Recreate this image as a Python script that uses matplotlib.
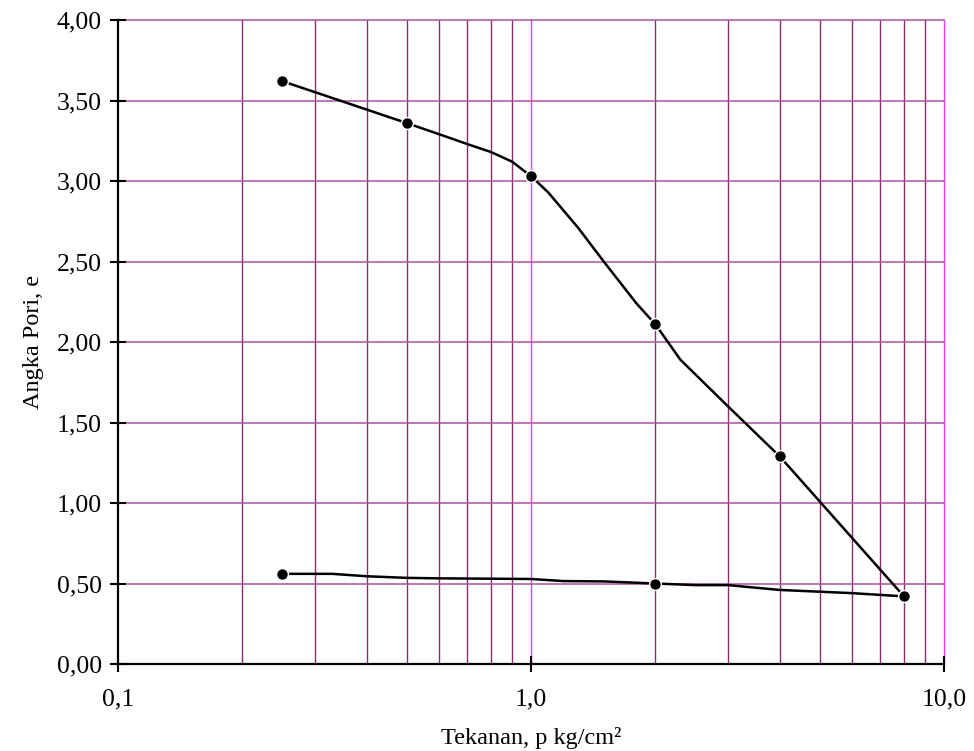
import numpy as np
import matplotlib
matplotlib.use('Agg')
import matplotlib.pyplot as plt
from matplotlib.ticker import FixedLocator, FuncFormatter, NullFormatter

# tekanan p (kg/cm2) and angka pori e
# curve vertices (the line) and measured points (the markers)
p_upper_line = [0.25, 0.5, 0.6, 0.7, 0.8, 0.9, 1.0, 1.1, 1.3, 1.5, 1.8, 2.0, 2.3, 3.0, 4.0, 8.0]
e_upper_line = [3.62, 3.36, 3.29, 3.23, 3.18, 3.12, 3.03, 2.93, 2.71, 2.50, 2.24, 2.11, 1.89, 1.60, 1.29, 0.42]
p_upper_pts = [0.25, 0.5, 1.0, 2.0, 4.0, 8.0]
e_upper_pts = [3.62, 3.36, 3.03, 2.11, 1.29, 0.42]

p_lower_line = [0.25, 0.33, 0.4, 0.5, 0.6, 1.0, 1.2, 1.5, 2.0, 2.5, 3.0, 4.0, 6.0, 8.0]
e_lower_line = [0.56, 0.56, 0.545, 0.535, 0.532, 0.528, 0.515, 0.513, 0.50, 0.49, 0.49, 0.46, 0.44, 0.42]
p_lower_pts = [0.25, 2.0, 8.0]
e_lower_pts = [0.56, 0.50, 0.42]

x_major = [0.1, 1.0, 10.0]
x_minor = [0.2, 0.3, 0.4, 0.5, 0.6, 0.7, 0.8, 0.9, 2, 3, 4, 5, 6, 7, 8, 9]
y_ticks = [0, 0.5, 1.0, 1.5, 2.0, 2.5, 3.0, 3.5, 4.0]

plt.rcParams['font.family'] = ['Liberation Serif', 'DejaVu Serif']

fig = plt.figure(figsize=(9.74, 7.51), dpi=100)
ax = fig.add_axes([118/974, 1-664/751, (944-118)/974, (664-20)/751])

ax.set_xscale('log')
ax.set_xlim(0.1, 10)
ax.set_ylim(0, 4)

# grid
for xv in x_minor:
    ax.axvline(xv, color='#8c2a72', lw=1.0, zorder=1)
for xv in x_major[1:]:
    ax.axvline(xv, color='#ff33ff', lw=1.0, zorder=1, clip_on=False)
for yv in y_ticks[1:]:
    ax.axhline(yv, color='#a8559a', lw=1.1, zorder=1, clip_on=False)

ax.plot(p_upper_line, e_upper_line, color='black', lw=1.8, zorder=3)
ax.plot(p_lower_line, e_lower_line, color='black', lw=1.8, zorder=3)
ax.plot(p_upper_pts, e_upper_pts, 'o', color='black', ms=8.5, mec='white', mew=1.0, zorder=4)
ax.plot(p_lower_pts, e_lower_pts, 'o', color='black', ms=8.5, mec='white', mew=1.0, zorder=4)

ax.xaxis.set_major_locator(FixedLocator(x_major))
ax.xaxis.set_minor_locator(FixedLocator(x_minor))
ax.xaxis.set_minor_formatter(NullFormatter())
ax.xaxis.set_major_formatter(FuncFormatter(lambda v, pos: f'{v:.1f}'.replace('.', ',')))
ax.yaxis.set_major_locator(FixedLocator(y_ticks))
ax.yaxis.set_major_formatter(FuncFormatter(lambda v, pos: f'{v:.2f}'.replace('.', ',')))

ax.tick_params(axis='x', which='major', direction='inout', length=11, width=1.5, pad=12, labelsize=18.5)
ax.tick_params(axis='x', which='minor', length=0)
ax.tick_params(axis='y', direction='inout', length=11, width=1.5, pad=6, labelsize=18.5)

for s in ['top', 'right']:
    ax.spines[s].set_visible(False)
for s in ['left', 'bottom']:
    ax.spines[s].set_linewidth(1.6)
    ax.spines[s].set_zorder(5)

ax.set_xlabel('Tekanan, p kg/cm²', fontsize=17.5, labelpad=12)
ax.set_ylabel('Angka Pori, e', fontsize=17.5, labelpad=9)

fig.savefig('out.png', dpi=100)
